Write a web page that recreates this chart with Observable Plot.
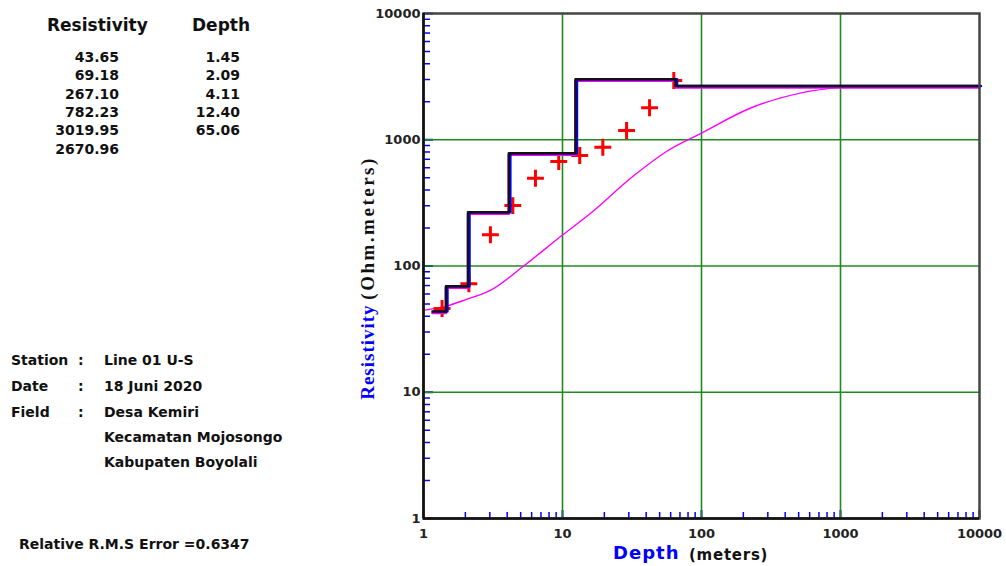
<!DOCTYPE html>
<html>
<head>
<meta charset="utf-8">
<script src="https://cdn.jsdelivr.net/npm/d3@7"></script>
<script src="https://cdn.jsdelivr.net/npm/@observablehq/plot@0.6"></script>
<style>
  html, body { margin: 0; padding: 0; background: #fff; }
  #wrap { position: relative; width: 1006px; height: 566px; overflow: hidden; font-family: "DejaVu Sans", sans-serif; font-weight: bold; color: #111; }
  #wrap .t { position: absolute; white-space: nowrap; }
</style>
</head>
<body>
<div id="wrap"><div id="chart"></div></div>
<script>
// ---- Data ----
// layered model (inversion result)
const layerResistivity = [43.65, 69.18, 267.10, 782.23, 3019.95, 2670.96];
const layerDepth = [1.45, 2.09, 4.11, 12.40, 65.06];
const modelStartDepth = 1.16;
// observed apparent resistivity (red crosses)
const obsSpacing = [1.36, 2.12, 3.03, 4.39, 6.39, 9.4, 13.3, 19.5, 28.9, 42.3, 63.2];
const obsRho     = [46.1, 72.3, 177, 301, 496, 673, 750, 873, 1183, 1791, 2946];
// calculated curve (magenta)
const calcSpacing = [1, 1.5, 2, 3.1, 5.2, 10, 15.7, 32, 56, 100, 226, 522, 1000, 1700];
const calcRho     = [44.5, 48.5, 54, 65, 99, 176, 258, 511, 807, 1130, 1784, 2349, 2600, 2670];
// axis tick labels
const decadeTicks = [1, 10, 100, 1000, 10000];
const gridTicks = [10, 100, 1000];
// text panel
const infoLabels = ["Station", "Date", "Field", "", ""];
const infoValues = ["Line 01 U-S", "18 Juni 2020", "Desa Kemiri", "Kecamatan Mojosongo", "Kabupaten Boyolali"];
const rmsText = "Relative R.M.S Error =0.6347";

// ---- Build tables for marks ----
const xMax = 10000;
const model = [{x: modelStartDepth, y: layerResistivity[0]}];
layerDepth.forEach((d, i) => model.push({x: d, y: layerResistivity[i + 1]}));
model.push({x: xMax, y: layerResistivity[layerResistivity.length - 1]});
const obs = obsSpacing.map((x, i) => ({x, y: obsRho[i]}));
const calc = calcSpacing.map((x, i) => ({x, y: calcRho[i]}));

const W = 1006, H = 566, mL = 423, mR = 27, mT = 13, mB = 48;
const plotW = W - mL - mR, plotH = H - mT - mB;
const allTicks = d3.scaleLog().domain([1, 10000]).ticks();
const minor = allTicks.filter(t => !decadeTicks.includes(t));

const chart = Plot.plot({
  width: W, height: H,
  marginLeft: mL, marginRight: mR, marginTop: mT, marginBottom: mB,
  x: {type: "log", domain: [1, 10000], axis: null},
  y: {type: "log", domain: [1, 10000], axis: null},
  style: {background: "white", fontFamily: "DejaVu Sans, sans-serif", overflow: "visible"},
  marks: [
    // minor & major ticks (inward, blue)
    Plot.tickY(minor, {y: d => d, stroke: "#0000ff", strokeWidth: 1.5, insetRight: plotW - 7}),
    Plot.tickY(decadeTicks, {y: d => d, stroke: "#0000ff", strokeWidth: 2, insetRight: plotW - 10}),
    Plot.tickX(minor, {x: d => d, stroke: "#0000ff", strokeWidth: 1.5, insetTop: plotH - 6}),
    Plot.tickX(decadeTicks, {x: d => d, stroke: "#0000ff", strokeWidth: 2, insetTop: plotH - 8}),
    // grid
    Plot.ruleX(gridTicks, {x: d => d, stroke: "#1f8a1f", strokeWidth: 1.6}),
    Plot.ruleY(gridTicks, {y: d => d, stroke: "#1f8a1f", strokeWidth: 1.6}),
    // calculated curve
    Plot.line(calc, {x: "x", y: "y", curve: "monotone-x", stroke: "#ff00ff", strokeWidth: 1.4}),
    // observed
    Plot.dot(obs, {x: "x", y: "y", symbol: "plus", r: 5.5, stroke: "#ff0000", strokeWidth: 3}),
    // model step lines
    Plot.line(model, {x: "x", y: "y", curve: "step-after", stroke: "#ff00ff", strokeWidth: 2.5, dy: 1.5}),
    Plot.line(model, {x: "x", y: "y", curve: "step-after", stroke: "#0000ff", strokeWidth: 2.5, dx: 1.5}),
    Plot.line(model, {x: "x", y: "y", curve: "step-after", stroke: "#111", strokeWidth: 2.5}),
    // frame
    Plot.frame({stroke: "#444", strokeWidth: 2.5}),
    Plot.ruleX([1], {x: d => d, stroke: "#111", strokeWidth: 2.5}),
    Plot.ruleY([1], {y: d => d, stroke: "#111", strokeWidth: 2.5}),
    // axis labels
    Plot.axisY({ticks: decadeTicks, tickFormat: d => String(d), tickSize: 0, tickPadding: 3, fontSize: 13, fontWeight: "bold", fill: "#222", label: null}),
    Plot.axisX({ticks: decadeTicks, tickFormat: d => String(d), tickSize: 0, tickPadding: 10, fontSize: 13, fontWeight: "bold", fill: "#222", label: null})
  ]
});
document.getElementById("chart").appendChild(chart);

// ---- Overlay text ----
const wrap = document.getElementById("wrap");
function place(text, x, yc, opt = {}) {
  const fs = opt.fs || 14;
  const el = document.createElement("div");
  el.className = "t";
  el.textContent = text;
  el.style.fontSize = fs + "px";
  el.style.lineHeight = (fs + 4) + "px";
  el.style.top = (yc - (fs + 4) / 2) + "px";
  if (opt.family) el.style.fontFamily = opt.family;
  if (opt.color) el.style.color = opt.color;
  if (opt.ls) el.style.letterSpacing = opt.ls + "px";
  if (opt.right) { el.style.left = (x - 200) + "px"; el.style.width = "200px"; el.style.textAlign = "right"; }
  else el.style.left = x + "px";
  wrap.appendChild(el);
  return el;
}
place("Resistivity", 47, 25, {fs: 17});
place("Depth", 192, 25, {fs: 17});
layerResistivity.forEach((v, i) => place(v.toFixed(2), 119, 57 + i * 18.3, {fs: 14, right: true}));
layerDepth.forEach((v, i) => place(v.toFixed(2), 240, 57 + i * 18.3, {fs: 14, right: true}));

const rows = [360, 385.5, 411.5, 437, 462];
infoValues.forEach((v, i) => {
  if (infoLabels[i]) { place(infoLabels[i], 11, rows[i], {fs: 14}); place(":", 78, rows[i], {fs: 14}); }
  place(v, 104, rows[i], {fs: 14});
});
place(rmsText, 19, 544, {fs: 14});

// x axis title
place("Depth", 613, 553, {fs: 18, color: "#0000ff", ls: 1});
place("(meters)", 689, 555, {fs: 15, ls: 0.75});

// y axis title (rotated)
const yl = document.createElement("div");
yl.className = "t";
yl.style.left = "368px"; yl.style.top = "278px";
yl.style.transform = "translate(-50%,-50%) rotate(-90deg)";
yl.style.fontFamily = "Liberation Serif, serif";
yl.style.fontSize = "19px";
yl.style.lineHeight = "22px";
yl.innerHTML = '<span style="color:#0000ff;letter-spacing:1px">Resistivity</span> <span style="letter-spacing:2.5px">(Ohm.meters)</span>';
wrap.appendChild(yl);
</script>
</body>
</html>
